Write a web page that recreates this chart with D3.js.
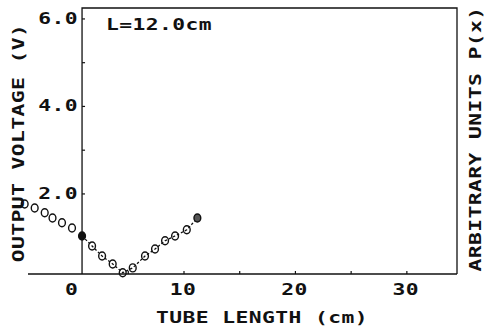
<!DOCTYPE html>
<html>
<head>
<meta charset="utf-8">
<script src="https://cdn.jsdelivr.net/npm/d3@7"></script>
<style>
  body { margin:0; background:#fff; }
  text { font-family:"DejaVu Sans Mono", monospace; font-weight:bold; fill:#111; }
</style>
</head>
<body>
<svg width="486" height="328"></svg>
<script>
// data
var tubeX  = [-4.3, -3.4, -2.5, -1.8, -0.95, -0.05, 0.85, 1.75, 2.65, 3.6, 4.5, 5.4, 6.5, 7.4, 8.3, 9.2, 10.25, 11.2];
var voltY  = [1.77, 1.68, 1.57, 1.45, 1.34, 1.22, 1.04, 0.81, 0.58, 0.40, 0.20, 0.31, 0.58, 0.74, 0.93, 1.04, 1.18, 1.45];
var xTicks = [0, 10, 20, 30];
var yTicks = [2.0, 4.0, 6.0];
var axisStart = 0.85; // where the vertical axis sits

var svg = d3.select("svg");
var x = d3.scaleLinear().domain([-4, 34.5]).range([28, 457]);
var y = d3.scaleLinear().domain([0.17, 6.25]).range([274, 8]);
var sx = 1.42; // plotter letters are wide

var pts = tubeX.map(function(d, i) { return {x: d, y: voltY[i]}; });

// wide text helper
function label(px, py, str, anchor, rot) {
  return svg.append("text")
    .attr("transform", "translate(" + px + "," + py + ")" + (rot ? " rotate(-90)" : "") + " scale(" + sx + ",1)")
    .attr("text-anchor", anchor || "start")
    .attr("font-size", 15).attr("letter-spacing", 0.3)
    .text(str);
}

// frame and axes
var ax = x(axisStart);
svg.append("line").attr("x1", x(-4)).attr("x2", x(34.5)).attr("y1", y(0.17)).attr("y2", y(0.17))
   .attr("stroke", "#111").attr("stroke-width", 1.4);
svg.append("path")
   .attr("d", "M" + ax + "," + y(0.17) + "V" + y(6.25) + "H" + x(34.5) + "V" + y(0.17))
   .attr("fill", "none").attr("stroke", "#111").attr("stroke-width", 1.3);

// y ticks (every 1.0, pointing inward)
svg.selectAll(".yt").data(d3.range(1, 7)).enter().append("line")
   .attr("x1", ax).attr("x2", ax + 3)
   .attr("y1", function(d) { return y(d); }).attr("y2", function(d) { return y(d); })
   .attr("stroke", "#111").attr("stroke-width", 1.2);
// x ticks
svg.selectAll(".xt").data(d3.range(5, 35, 5)).enter().append("line")
   .attr("x1", function(d) { return x(d); }).attr("x2", function(d) { return x(d); })
   .attr("y1", y(0.17)).attr("y2", y(0.17) - 3)
   .attr("stroke", "#111").attr("stroke-width", 1.2);

yTicks.forEach(function(d) { label(ax - 4, y(d) + 5, d.toFixed(1), "end"); });
xTicks.forEach(function(d) { label(x(d) - 1, 295, String(d), "middle"); });

// axis titles
label(262, 323, "TUBE LENGTH (cm)", "middle");
label(24, 143, "OUTPUT VOLTAGE (V)", "middle", true);
label(481, 139, "ARBITRARY UNITS P(x)", "middle", true);
label(106, 30, "L=12.0cm", "start");

// dashed line through the points inside the tube
var inside = pts.filter(function(d) { return d.x >= axisStart - 0.1; });
svg.append("path").datum(inside)
   .attr("d", d3.line().x(function(d) { return x(d.x); }).y(function(d) { return y(d.y); }))
   .attr("fill", "none").attr("stroke", "#111").attr("stroke-width", 1.3)
   .attr("stroke-dasharray", "2.5,2");

svg.selectAll(".pt").data(pts).enter().append("ellipse")
   .attr("cx", function(d) { return x(d.x); })
   .attr("cy", function(d) { return y(d.y); })
   .attr("rx", 3.4).attr("ry", 4)
   .attr("fill", function(d, i) { return i == 6 ? "#111" : (i == pts.length - 1 ? "#555" : "none"); })
   .attr("stroke", "#111").attr("stroke-width", 1.4);
</script>
</body>
</html>
